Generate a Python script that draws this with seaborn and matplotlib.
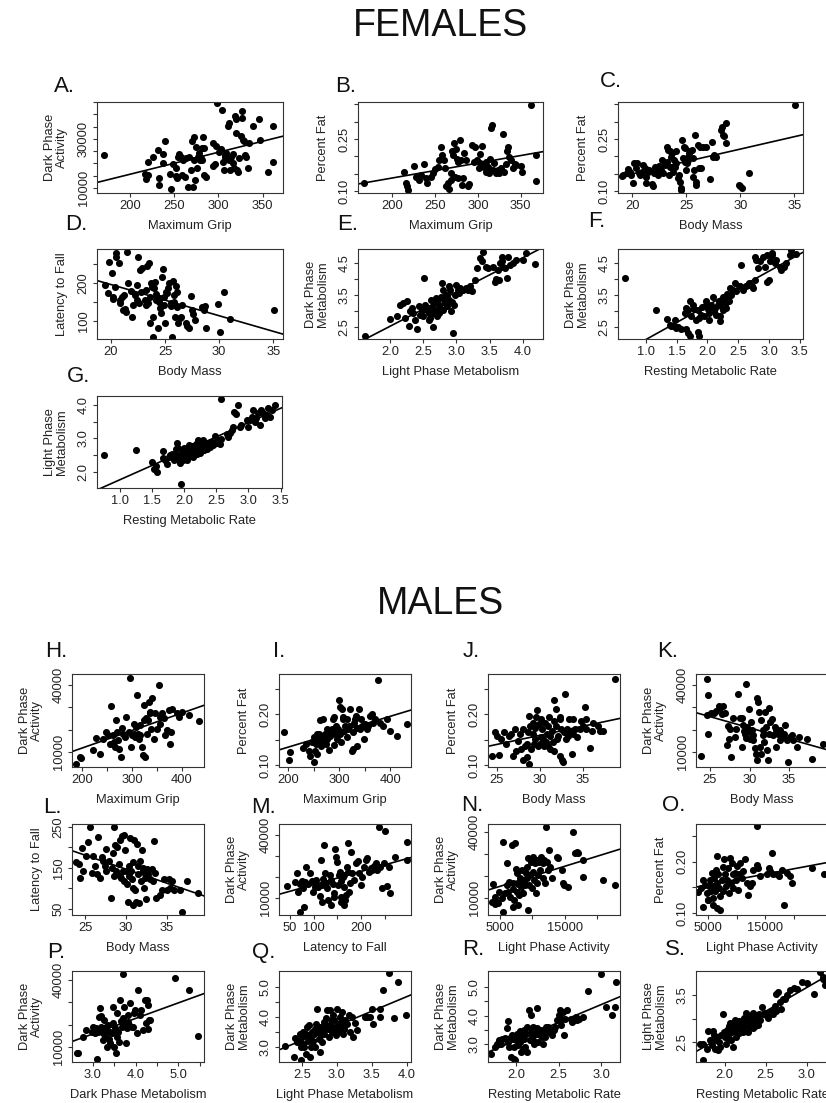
import matplotlib
matplotlib.use("Agg")
import matplotlib.pyplot as plt
import seaborn as sns

# ---------------- DATA ----------------
# Females
fA = [(171,23500),(217,15900),(218,13600),(221,15500),(221,20800),(226,22800),(232,25600),(233,13900),(233,11100),(237,23900),(237,20100),(240,29300),(245,15900),(247,9700),(249,19800),(252,18000),(252,14800),(253,13900),(254,22800),(256,23900),(258,22800),(259,15200),(260,21500),(262,14600),(264,22100),(266,10400),(267,22800),(269,17300),(270,29000),(271,10400),(272,30800),(273,21500),(274,13200),(275,26700),(276,18000),(277,22800),(278,24200),(279,21500),(280,22400),(281,26300),(282,21500),(283,30800),(284,26300),(284,15200),(286,14600),(294,19000),(294,28400),(296,19800),(297,27200),(299,44600),(301,24500),(303,25900),(304,41900),(305,20800),(306,17300),(307,22800),(308,23500),(309,24200),(311,35300),(312,36600),(312,21500),(313,17300),(314,22800),(316,23800),(317,20100),(318,18000),(319,39400),(320,38000),(320,32500),(321,17300),(322,16600),(323,22100),(326,31400),(327,41500),(327,38700),(328,29700),(329,29000),(330,23500),(331,22800),(333,18000),(335,28400),(339,35300),(346,38300),(347,29700),(356,16600),(362,20500),(362,35300)]
fB = [(167,0.124),(214,0.156),(216,0.124),(217,0.113),(218,0.103),(225,0.172),(228,0.139),(231,0.132),(233,0.146),(237,0.178),(239,0.137),(241,0.124),(245,0.141),(248,0.151),(250,0.163),(253,0.168),(255,0.189),(257,0.226),(258,0.204),(260,0.189),(261,0.165),(263,0.114),(265,0.124),(266,0.105),(268,0.132),(269,0.151),(270,0.216),(271,0.204),(272,0.238),(273,0.139),(274,0.220),(276,0.191),(277,0.185),(277,0.137),(279,0.247),(280,0.189),(282,0.117),(283,0.137),(284,0.209),(286,0.189),(288,0.114),(290,0.120),(293,0.233),(295,0.185),(297,0.226),(299,0.189),(301,0.165),(303,0.180),(303,0.207),(305,0.230),(307,0.170),(308,0.178),(309,0.185),(310,0.156),(312,0.170),(313,0.153),(314,0.191),(315,0.281),(317,0.290),(318,0.161),(319,0.180),(321,0.151),(323,0.161),(325,0.151),(327,0.165),(329,0.265),(331,0.156),(333,0.178),(334,0.214),(335,0.228),(336,0.199),(339,0.189),(341,0.165),(343,0.178),(345,0.175),(350,0.172),(352,0.156),(362,0.348),(368,0.204),(368,0.130)]
fC = [(19.1,0.143),(19.2,0.146),(19.5,0.151),(19.6,0.163),(19.8,0.156),(19.9,0.146),(20.1,0.124),(20.2,0.180),(20.4,0.165),(20.5,0.182),(20.6,0.151),(20.7,0.146),(20.9,0.156),(21.0,0.175),(21.2,0.165),(21.3,0.122),(21.3,0.141),(21.5,0.156),(21.6,0.161),(21.8,0.120),(21.9,0.114),(22.0,0.151),(22.1,0.170),(22.2,0.163),(22.4,0.146),(22.5,0.172),(22.7,0.161),(22.8,0.189),(22.9,0.151),(23.0,0.175),(23.2,0.185),(23.2,0.226),(23.3,0.218),(23.4,0.146),(23.5,0.214),(23.5,0.170),(23.6,0.199),(23.7,0.209),(23.8,0.156),(23.9,0.189),(24.0,0.170),(24.1,0.214),(24.1,0.180),(24.2,0.137),(24.3,0.146),(24.4,0.127),(24.5,0.108),(24.5,0.103),(24.6,0.247),(24.7,0.194),(24.8,0.228),(24.9,0.223),(24.9,0.185),(25.0,0.161),(25.1,0.180),(25.2,0.189),(25.2,0.197),(25.3,0.209),(25.4,0.214),(25.5,0.218),(25.6,0.194),(25.6,0.141),(25.7,0.161),(25.8,0.262),(25.9,0.127),(25.9,0.117),(26.1,0.233),(26.2,0.165),(26.3,0.228),(26.4,0.165),(26.6,0.228),(26.8,0.226),(27.2,0.134),(27.4,0.242),(27.5,0.199),(27.6,0.204),(27.8,0.199),(28.2,0.276),(28.3,0.286),(28.4,0.262),(28.5,0.259),(28.7,0.295),(28.7,0.239),(29.9,0.117),(30.0,0.113),(30.2,0.108),(30.8,0.153),(35.1,0.348)]
fD = [(19.4,195.6),(19.7,175.2),(19.8,257.5),(20.1,228.3),(20.2,162.8),(20.2,157.5),(20.4,191.2),(20.5,281.4),(20.5,270.8),(20.7,253.1),(20.8,148.7),(20.8,155.8),(21.0,164.6),(21.1,129.2),(21.2,169.0),(21.3,131.0),(21.4,124.8),(21.5,284.1),(21.6,201.8),(21.8,180.5),(21.9,111.5),(22.0,142.5),(22.2,169.0),(22.4,155.8),(22.4,195.6),(22.5,270.8),(22.6,146.9),(22.7,235.4),(22.8,177.9),(22.9,239.8),(23.1,155.8),(23.2,142.5),(23.2,182.3),(23.3,246.0),(23.4,146.9),(23.5,254.9),(23.6,164.6),(23.6,93.8),(23.7,200.0),(23.8,191.2),(23.9,109.7),(23.9,58.4),(24.0,186.7),(24.1,204.4),(24.2,155.8),(24.2,171.7),(24.3,80.5),(24.4,151.3),(24.5,160.2),(24.5,133.6),(24.6,120.4),(24.7,217.7),(24.8,237.2),(24.9,142.5),(24.9,164.6),(25.0,93.8),(25.1,177.9),(25.2,173.5),(25.3,186.7),(25.4,200.0),(25.5,146.9),(25.5,139.8),(25.6,58.4),(25.7,207.1),(25.8,169.0),(25.8,151.3),(25.9,111.5),(26.0,192.9),(26.1,138.1),(26.1,177.9),(26.2,93.8),(26.4,107.1),(26.5,111.5),(26.6,142.5),(26.9,93.8),(27.0,86.7),(27.2,80.5),(27.4,166.4),(27.5,129.2),(27.6,118.6),(27.8,102.7),(28.4,136.3),(28.6,129.2),(28.7,139.8),(28.8,80.5),(29.9,144.3),(30.1,71.7),(30.4,177.9),(31.0,104.4),(35.1,129.2)]
fE = [(1.62,2.21),(2.00,2.75),(2.10,2.83),(2.15,3.20),(2.20,3.25),(2.25,3.30),(2.23,2.78),(2.28,2.52),(2.30,2.99),(2.33,3.09),(2.35,2.94),(2.38,2.73),(2.40,2.42),(2.43,3.14),(2.45,2.88),(2.48,3.04),(2.50,2.83),(2.51,4.03),(2.53,3.20),(2.55,3.04),(2.58,2.73),(2.59,2.94),(2.60,2.78),(2.61,3.35),(2.63,3.12),(2.64,2.92),(2.65,2.50),(2.66,3.25),(2.68,3.04),(2.69,3.40),(2.70,2.83),(2.71,3.30),(2.73,2.94),(2.74,3.20),(2.75,3.09),(2.76,3.44),(2.78,3.87),(2.79,3.04),(2.80,3.66),(2.81,3.35),(2.83,3.25),(2.84,3.51),(2.85,3.46),(2.86,3.14),(2.88,3.35),(2.89,3.77),(2.90,3.66),(2.91,2.99),(2.93,3.27),(2.95,2.31),(2.96,3.20),(2.98,3.51),(3.00,3.82),(3.03,3.66),(3.04,3.56),(3.06,3.72),(3.10,3.66),(3.15,3.72),(3.18,3.66),(3.20,3.77),(3.23,3.63),(3.28,3.98),(3.31,4.34),(3.35,4.65),(3.38,4.55),(3.40,4.86),(3.44,4.39),(3.48,4.34),(3.55,4.39),(3.58,3.92),(3.60,4.00),(3.63,4.29),(3.64,3.98),(3.65,4.50),(3.68,4.70),(3.69,4.55),(3.70,4.39),(3.73,4.34),(3.76,4.03),(3.78,4.70),(3.80,4.44),(3.85,4.50),(3.90,4.60),(4.00,4.60),(4.04,4.81),(4.18,4.48)]
fF = [(0.66,4.03),(1.16,3.02),(1.35,2.75),(1.39,2.57),(1.41,2.54),(1.45,2.52),(1.49,2.47),(1.52,2.50),(1.57,2.42),(1.65,2.42),(1.68,2.31),(1.71,2.21),(1.48,2.71),(1.63,2.94),(1.65,3.09),(1.68,3.04),(1.71,3.30),(1.73,2.83),(1.76,3.20),(1.79,3.06),(1.82,2.73),(1.84,3.02),(1.85,2.33),(1.87,2.21),(1.87,2.78),(1.90,2.88),(1.92,3.12),(1.95,2.83),(1.97,3.20),(1.98,3.30),(2.01,3.06),(2.02,2.92),(2.03,2.73),(2.06,3.20),(2.09,3.44),(2.11,2.99),(2.13,3.09),(2.14,2.88),(2.17,3.17),(2.18,3.30),(2.20,2.83),(2.21,2.68),(2.22,3.27),(2.24,3.12),(2.25,3.44),(2.26,3.02),(2.28,3.17),(2.29,3.35),(2.30,3.09),(2.32,3.54),(2.33,3.44),(2.35,3.30),(2.36,3.72),(2.39,3.51),(2.41,3.66),(2.44,3.87),(2.47,3.61),(2.51,3.77),(2.53,3.79),(2.55,4.44),(2.58,3.66),(2.63,3.77),(2.66,3.82),(2.68,3.87),(2.73,3.77),(2.74,3.72),(2.77,3.98),(2.77,4.68),(2.79,4.60),(2.82,4.34),(2.85,4.55),(2.90,4.70),(2.93,4.39),(2.96,3.92),(2.97,4.76),(3.00,3.98),(3.01,4.55),(3.04,4.83),(3.05,4.76),(3.09,4.50),(3.12,4.60),(3.17,4.39),(3.20,4.29),(3.24,4.39),(3.28,4.50),(3.34,4.76),(3.36,4.91),(3.43,4.79)]
fG = [(0.76,2.52),(1.26,2.67),(1.50,2.30),(1.53,2.10),(1.58,2.00),(1.57,2.17),(1.67,2.63),(1.68,2.43),(1.71,2.35),(1.73,2.25),(1.76,2.45),(1.78,2.50),(1.81,2.53),(1.84,2.35),(1.86,2.55),(1.88,2.70),(1.89,2.87),(1.90,2.45),(1.91,2.73),(1.93,2.32),(1.94,2.27),(1.95,1.63),(1.96,2.55),(1.98,2.65),(1.99,2.35),(2.00,2.73),(2.02,2.43),(2.03,2.57),(2.04,2.35),(2.05,2.60),(2.07,2.70),(2.08,2.80),(2.09,2.47),(2.10,2.67),(2.12,2.55),(2.13,2.77),(2.14,2.45),(2.15,2.63),(2.17,2.73),(2.19,2.85),(2.20,2.55),(2.21,2.95),(2.22,2.65),(2.24,2.67),(2.25,2.57),(2.27,2.80),(2.29,2.73),(2.30,2.95),(2.31,2.65),(2.32,2.85),(2.34,2.77),(2.35,2.70),(2.38,2.87),(2.40,2.75),(2.43,2.90),(2.45,2.80),(2.48,3.07),(2.51,2.87),(2.53,2.95),(2.56,2.85),(2.57,4.17),(2.58,2.97),(2.66,3.13),(2.69,3.05),(2.71,3.17),(2.74,3.25),(2.76,3.35),(2.77,3.80),(2.81,3.73),(2.84,4.00),(2.87,3.35),(2.89,3.40),(2.97,3.55),(3.00,3.35),(3.02,3.55),(3.05,3.65),(3.07,3.85),(3.10,3.50),(3.12,3.60),(3.15,3.75),(3.18,3.40),(3.20,3.85),(3.23,3.75),(3.25,3.60),(3.28,3.70),(3.30,3.90),(3.33,3.65),(3.36,3.85),(3.41,4.00)]
# Males
mH = [(188,4450),(196,7750),(199,7450),(223,11050),(229,16450),(236,9250),(243,16000),(249,19000),(253,17500),(256,13750),(259,30550),(263,17500),(264,14500),(266,12250),(269,24250),(271,19000),(273,15250),(275,11500),(279,7750),(281,20950),(283,18250),(286,16750),(288,25750),(293,19000),(296,43000),(297,12250),(299,17500),(303,22750),(304,18250),(306,16750),(308,21250),(309,35500),(311,18250),(313,16000),(315,17500),(316,22000),(319,12250),(321,8500),(323,24250),(324,31000),(326,7750),(328,25000),(329,18250),(331,24250),(333,32500),(335,28000),(336,27250),(337,20500),(339,34000),(343,16000),(346,27250),(349,20500),(353,40000),(355,22750),(356,25750),(359,27250),(363,25000),(366,17500),(369,19750),(373,28750),(376,13450),(377,19000),(379,29050),(389,27250),(393,25750),(399,28000),(413,26500),(433,23950)]
mI = [(192,0.166),(201,0.110),(203,0.127),(230,0.135),(235,0.142),(240,0.129),(243,0.119),(246,0.145),(250,0.155),(251,0.106),(253,0.129),(255,0.142),(256,0.161),(257,0.123),(259,0.148),(261,0.161),(263,0.189),(264,0.139),(266,0.155),(268,0.146),(269,0.190),(271,0.158),(272,0.161),(274,0.142),(276,0.171),(277,0.152),(279,0.165),(281,0.131),(282,0.158),(286,0.171),(288,0.190),(289,0.194),(290,0.140),(292,0.161),(294,0.177),(295,0.152),(297,0.171),(299,0.229),(301,0.215),(302,0.161),(303,0.145),(305,0.210),(307,0.190),(308,0.194),(310,0.168),(312,0.177),(315,0.190),(316,0.155),(318,0.171),(320,0.177),(322,0.210),(325,0.129),(327,0.132),(328,0.165),(329,0.184),(331,0.190),(333,0.197),(335,0.174),(336,0.139),(338,0.211),(341,0.171),(342,0.190),(344,0.177),(348,0.152),(351,0.181),(354,0.171),(357,0.177),(361,0.197),(364,0.200),(367,0.184),(370,0.190),(377,0.268),(380,0.184),(387,0.177),(393,0.190),(400,0.168),(413,0.158),(433,0.181)]
mJ = [(24.5,0.119),(24.8,0.165),(25.0,0.158),(25.3,0.121),(25.5,0.152),(25.9,0.165),(26.1,0.142),(26.4,0.158),(26.7,0.161),(26.9,0.119),(27.1,0.171),(27.3,0.129),(27.5,0.148),(27.7,0.161),(27.8,0.132),(28.1,0.171),(28.1,0.110),(28.3,0.139),(28.5,0.116),(28.5,0.142),(28.6,0.165),(28.8,0.103),(28.8,0.197),(28.9,0.177),(29.0,0.132),(29.2,0.184),(29.2,0.161),(29.3,0.142),(29.4,0.174),(29.5,0.152),(29.6,0.194),(29.7,0.208),(29.8,0.139),(29.9,0.181),(30.0,0.142),(30.1,0.155),(30.2,0.190),(30.3,0.171),(30.4,0.152),(30.5,0.139),(30.6,0.184),(30.7,0.145),(30.8,0.161),(30.9,0.177),(31.0,0.139),(31.1,0.194),(31.2,0.132),(31.2,0.158),(31.4,0.168),(31.5,0.145),(31.6,0.129),(31.6,0.187),(31.7,0.229),(31.9,0.210),(31.9,0.177),(32.0,0.152),(32.1,0.158),(32.3,0.194),(32.3,0.190),(32.4,0.119),(32.5,0.171),(32.6,0.110),(32.7,0.106),(32.8,0.165),(32.9,0.239),(33.0,0.152),(33.1,0.171),(33.3,0.158),(33.4,0.190),(33.5,0.165),(33.7,0.123),(33.8,0.161),(33.9,0.190),(34.1,0.171),(34.3,0.155),(34.7,0.171),(34.8,0.187),(35.0,0.177),(35.2,0.215),(35.4,0.171),(35.4,0.190),(35.8,0.135),(36.0,0.168),(36.2,0.184),(36.8,0.177),(37.0,0.168),(37.3,0.168),(38.7,0.269)]
mK = [(23.9,8050),(24.6,42550),(24.8,35500),(24.8,17950),(24.6,26500),(25.2,27250),(25.5,27550),(25.8,28450),(26.1,30550),(26.3,29500),(26.5,26950),(26.7,30550),(26.9,27550),(27.1,13000),(27.3,21550),(27.4,16000),(27.6,20500),(27.7,7750),(27.9,25000),(28.2,16750),(28.3,20500),(28.6,35950),(28.8,25000),(29.0,25000),(29.1,12250),(29.2,22000),(29.3,19450),(29.4,18250),(29.6,16450),(29.6,40450),(29.7,21250),(29.9,29050),(30.0,19000),(30.1,16000),(30.2,23500),(30.3,19750),(30.4,17500),(30.5,15250),(30.7,11950),(30.8,9250),(30.9,6250),(31.0,34000),(31.1,32500),(31.2,28000),(31.3,12250),(31.4,9250),(31.5,24250),(31.7,19750),(31.7,17500),(31.8,14500),(31.9,28000),(32.1,21250),(32.2,10750),(32.3,6250),(32.4,29500),(32.5,18250),(32.6,23500),(32.8,24550),(33.0,17500),(33.2,21250),(33.4,12250),(33.4,19750),(33.6,18250),(33.8,15250),(33.9,19750),(34.1,16750),(34.3,18250),(34.5,22000),(34.7,15250),(34.9,5500),(35.1,16750),(35.3,17500),(35.5,15250),(36.0,12250),(36.2,16750),(37.2,16000),(37.9,7000),(39.3,13750)]
mL = [(23.9,163.3),(24.2,159.2),(24.4,125.8),(24.6,199.2),(24.8,142.5),(25.1,180.0),(25.4,213.3),(25.6,250.8),(25.8,138.3),(26.0,180.0),(26.2,155.0),(26.4,134.2),(26.6,224.2),(26.8,125.8),(27.0,175.8),(27.2,167.5),(27.4,155.0),(27.6,196.7),(27.6,142.5),(27.9,167.5),(28.1,75.8),(28.3,150.8),(28.4,185.8),(28.5,250.8),(28.5,130.0),(28.7,205.0),(28.8,142.5),(28.9,134.2),(28.9,200.8),(29.1,159.2),(29.2,130.0),(29.3,217.5),(29.4,125.8),(29.5,227.5),(29.6,142.5),(29.7,230.0),(29.8,117.5),(29.9,192.5),(30.0,142.5),(30.1,110.8),(30.3,130.0),(30.4,155.0),(30.5,221.7),(30.6,142.5),(30.7,121.7),(30.8,100.8),(30.9,163.3),(31.0,217.5),(31.1,96.7),(31.2,67.5),(31.3,209.2),(31.4,155.0),(31.5,134.2),(31.6,63.3),(31.7,167.5),(31.8,117.5),(31.9,192.5),(32.0,142.5),(32.1,150.8),(32.2,100.8),(32.3,125.8),(32.4,74.2),(32.5,146.7),(32.6,130.0),(32.7,134.2),(32.9,121.7),(33.1,146.7),(33.3,117.5),(33.4,215.8),(33.5,138.3),(33.7,75.8),(34.1,84.2),(34.4,96.7),(34.6,121.7),(35.0,96.7),(35.2,121.7),(35.4,100.8),(35.6,117.5),(35.8,96.7),(36.6,96.7),(37.4,117.5),(38.8,88.3),(30.2,67.5),(30.9,60.0),(36.8,42.0)]
mM = [(44,15700),(61,17760),(65,21730),(68,13000),(72,16650),(75,18240),(78,14590),(82,17760),(85,24900),(89,16650),(92,21730),(96,18240),(99,13000),(103,15380),(106,18560),(110,15070),(113,10940),(115,28080),(117,16180),(120,18880),(122,35220),(124,21730),(127,17290),(129,14590),(130,9040),(134,20940),(137,18560),(141,16650),(143,10620),(144,12210),(146,33160),(148,29670),(150,27290),(151,16180),(153,20940),(155,22530),(157,18240),(158,10310),(162,20150),(164,15380),(165,20940),(167,9040),(169,11420),(171,24900),(172,22530),(173,36330),(176,13000),(178,16970),(179,32050),(182,21730),(186,18560),(189,26810),(193,27760),(196,21730),(200,16180),(203,20150),(207,24900),(210,28080),(214,28870),(217,22530),(221,24110),(224,23320),(228,25220),(231,26490),(234,23320),(238,43950),(241,24900),(245,14590),(248,26490),(252,42050),(255,15700),(259,24900),(262,12210),(273,29670),(297,28080),(297,36810),(71,3340),(79,5700),(117,8100),(137,6700),(158,8100),(165,6700)]
mN = [(3870,16360),(4230,10600),(4490,8330),(4900,12880),(5260,9850),(5510,35600),(5770,12120),(6030,26060),(6130,15910),(6280,12880),(6440,17420),(6540,10600),(6800,34090),(6950,13940),(7050,16670),(7150,9090),(7310,34850),(7460,23030),(7560,12880),(7670,21210),(7820,16360),(7980,11360),(8080,18940),(8180,15150),(8330,22730),(8490,18180),(8590,12420),(8690,17420),(8850,15910),(9000,21210),(9100,24240),(9210,18940),(9360,28030),(9510,15910),(9620,20450),(9720,26510),(9870,14390),(10030,21970),(10130,28790),(10230,18180),(10380,25760),(10540,12120),(10640,27270),(10740,16670),(10900,20450),(11050,26510),(11150,22730),(11260,28790),(11410,27270),(11560,18940),(11670,25760),(11770,27270),(11920,16670),(12080,42420),(12180,26510),(12430,22730),(12590,31820),(12690,24240),(12950,18940),(13720,28790),(13970,28030),(14490,22730),(14740,16670),(14850,15910),(15510,15150),(16280,40150),(16540,30300),(16790,31060),(17050,30600),(17820,27270),(17820,19700),(20790,18180),(22690,15910),(3770,8180),(4230,7270),(4690,7730),(5460,3640),(7000,5910),(7770,6820),(9310,4550)]
mO = [(3310,0.140),(3720,0.149),(4180,0.165),(4480,0.155),(4770,0.139),(5060,0.126),(5240,0.152),(5350,0.165),(5470,0.142),(5640,0.178),(5820,0.129),(5940,0.153),(6060,0.168),(6230,0.142),(6410,0.184),(6520,0.211),(6640,0.158),(6810,0.175),(6990,0.149),(7110,0.132),(7400,0.165),(7570,0.190),(7690,0.142),(7810,0.205),(7980,0.175),(8160,0.152),(8280,0.165),(8570,0.188),(8740,0.139),(8860,0.207),(8980,0.158),(9150,0.198),(9330,0.175),(9450,0.149),(9740,0.178),(9910,0.165),(10030,0.191),(10320,0.145),(10500,0.175),(10610,0.198),(10910,0.168),(11200,0.181),(11490,0.204),(11790,0.158),(12080,0.135),(12370,0.152),(12660,0.158),(12950,0.184),(13540,0.194),(13660,0.269),(13830,0.188),(14120,0.171),(15290,0.175),(15760,0.188),(15880,0.181),(16170,0.217),(16460,0.175),(17050,0.175),(17340,0.171),(17920,0.184),(18220,0.116),(18800,0.178),(19390,0.171),(19680,0.158),(23190,0.188),(25230,0.175),(4120,0.112),(5000,0.125),(5880,0.116),(6580,0.110),(7100,0.106)]
mP = [(2.62,7480),(2.65,7180),(2.77,14650),(2.83,17630),(2.97,16890),(3.01,19130),(3.05,16140),(3.07,18380),(3.09,4490),(3.12,16890),(3.15,23600),(3.16,27340),(3.18,23900),(3.20,19130),(3.23,16140),(3.24,13150),(3.26,22110),(3.28,14650),(3.30,19130),(3.32,16890),(3.34,10170),(3.36,19870),(3.38,13450),(3.40,11660),(3.41,16890),(3.44,16140),(3.46,28080),(3.48,20920),(3.49,10170),(3.52,18380),(3.54,7480),(3.56,25100),(3.57,14650),(3.59,16890),(3.62,12410),(3.63,31070),(3.65,21810),(3.67,19130),(3.70,42720),(3.71,22860),(3.73,28080),(3.75,19870),(3.77,11660),(3.79,18380),(3.81,21370),(3.83,24350),(3.85,19870),(3.87,29580),(3.91,19130),(3.93,19130),(3.95,25100),(3.99,26590),(4.02,16140),(4.06,35550),(4.10,24350),(4.12,26590),(4.18,17630),(4.22,31070),(4.24,20620),(4.26,31070),(4.28,17930),(4.30,28830),(4.32,22110),(4.34,22110),(4.93,40780),(5.24,35550),(5.47,14950)]
mQ = [(2.26,3.02),(2.38,2.66),(2.40,3.31),(2.43,3.17),(2.45,3.22),(2.47,3.43),(2.48,2.57),(2.49,3.00),(2.50,3.34),(2.51,3.51),(2.52,3.11),(2.53,3.00),(2.55,2.78),(2.56,3.45),(2.57,3.67),(2.58,3.22),(2.60,3.73),(2.61,3.34),(2.62,2.66),(2.63,3.00),(2.64,3.51),(2.66,3.22),(2.67,3.45),(2.68,3.62),(2.69,3.00),(2.70,3.79),(2.71,4.29),(2.72,3.51),(2.74,3.28),(2.75,2.83),(2.76,3.67),(2.77,3.39),(2.79,3.17),(2.80,3.56),(2.81,3.84),(2.82,3.45),(2.83,3.73),(2.85,3.96),(2.86,4.24),(2.87,3.62),(2.88,3.34),(2.90,3.73),(2.90,4.24),(2.91,3.90),(2.93,3.51),(2.94,4.07),(2.95,3.67),(2.96,3.90),(2.98,3.39),(2.99,3.62),(3.00,4.29),(3.01,3.79),(3.02,3.51),(3.04,4.01),(3.05,3.62),(3.06,3.84),(3.07,4.18),(3.09,3.45),(3.10,3.73),(3.10,3.62),(3.12,3.90),(3.14,3.79),(3.17,4.07),(3.19,3.51),(3.21,4.01),(3.23,3.34),(3.26,3.81),(3.29,3.56),(3.40,4.01),(3.43,4.01),(3.48,4.01),(3.50,4.29),(3.51,3.79),(3.62,4.01),(3.62,4.29),(3.66,4.91),(3.74,5.47),(3.81,3.96),(3.87,5.19),(3.99,4.07)]
mR = [(1.71,2.62),(1.75,2.88),(1.78,3.00),(1.80,3.12),(1.82,2.98),(1.84,3.18),(1.87,3.21),(1.89,3.57),(1.90,3.06),(1.91,3.81),(1.92,2.88),(1.93,3.21),(1.94,2.52),(1.95,3.30),(1.96,3.18),(1.97,2.46),(1.98,2.88),(1.99,2.43),(2.00,3.12),(2.01,3.36),(2.02,2.94),(2.03,3.18),(2.04,3.45),(2.05,3.06),(2.06,2.70),(2.07,3.30),(2.08,2.82),(2.09,3.48),(2.09,3.18),(2.11,2.88),(2.12,3.36),(2.13,3.60),(2.13,2.70),(2.15,4.19),(2.16,3.12),(2.17,4.01),(2.17,3.42),(2.19,3.24),(2.20,3.60),(2.20,3.12),(2.21,3.00),(2.22,3.36),(2.24,3.54),(2.24,4.25),(2.25,3.36),(2.26,3.06),(2.28,3.48),(2.28,3.30),(2.30,3.24),(2.31,3.50),(2.32,3.00),(2.33,3.42),(2.34,3.24),(2.35,3.60),(2.36,3.42),(2.38,3.60),(2.40,3.42),(2.42,3.30),(2.44,3.48),(2.46,3.60),(2.48,3.83),(2.50,4.01),(2.51,4.19),(2.53,3.65),(2.54,3.89),(2.55,4.13),(2.56,3.30),(2.58,3.89),(2.60,4.19),(2.64,3.89),(2.66,3.77),(2.68,3.83),(2.70,3.95),(2.72,3.83),(2.74,3.89),(2.78,3.95),(2.85,4.88),(3.00,5.48),(3.05,4.31),(3.13,4.01),(3.16,4.29),(3.17,5.20)]
mS = [(1.73,2.11),(1.70,2.46),(1.73,2.45),(1.78,2.35),(1.80,2.74),(1.82,2.54),(1.84,2.43),(1.86,2.74),(1.87,2.65),(1.88,2.35),(1.89,2.54),(1.91,2.61),(1.92,2.32),(1.93,2.50),(1.94,2.39),(1.96,2.65),(1.98,3.09),(1.99,2.72),(2.00,2.61),(2.01,2.69),(2.02,2.46),(2.03,2.76),(2.04,2.57),(2.05,2.83),(2.06,2.69),(2.07,2.91),(2.08,2.54),(2.09,2.76),(2.10,2.39),(2.11,2.87),(2.12,2.72),(2.13,2.98),(2.14,2.61),(2.15,2.83),(2.16,2.76),(2.18,2.94),(2.18,2.69),(2.19,2.91),(2.20,2.80),(2.22,2.98),(2.22,2.72),(2.23,3.02),(2.24,2.87),(2.26,3.13),(2.27,2.80),(2.27,3.06),(2.29,2.72),(2.30,2.98),(2.31,2.91),(2.31,3.06),(2.33,2.94),(2.34,3.09),(2.35,2.80),(2.35,3.13),(2.37,2.83),(2.38,3.02),(2.39,2.91),(2.41,2.87),(2.42,3.09),(2.43,2.98),(2.45,3.24),(2.47,3.09),(2.49,3.13),(2.51,3.06),(2.53,3.02),(2.55,3.09),(2.57,3.17),(2.59,3.09),(2.61,3.28),(2.62,3.17),(2.63,3.54),(2.65,3.57),(2.67,3.35),(2.69,3.20),(2.71,3.43),(2.73,3.43),(2.76,3.50),(2.80,3.61),(2.84,3.66),(2.88,3.65),(2.94,3.80),(3.00,3.76),(3.09,3.54),(3.16,4.00),(3.20,3.85),(3.22,3.72),(3.20,3.90)]

# axis labels
LBL_GRIP = "Maximum Grip"; LBL_MASS = "Body Mass"; LBL_LAT = "Latency to Fall"
LBL_DPA = "Dark Phase\nActivity"; LBL_FAT = "Percent Fat"
LBL_DPM = "Dark Phase\nMetabolism"; LBL_LPM = "Light Phase\nMetabolism"
LBL_LPMx = "Light Phase Metabolism"; LBL_DPMx = "Dark Phase Metabolism"
LBL_RMR = "Resting Metabolic Rate"; LBL_LPA = "Light Phase Activity"

# tick values and labels
t_act_f = [10000,15000,20000,25000,30000,35000,40000,45000]
l_act_f = ["10000","","","","30000","","",""]
t_fat_f = [0.10,0.15,0.20,0.25,0.30,0.35]
l_fat_f = ["0.10","","","0.25","",""]
t_grip_f = [200,250,300,350]; l_grip_f = ["200","250","300","350"]
t_mass_f = [20,25,30,35]; l_mass_f = ["20","25","30","35"]
t_lat_f = [100,150,200,250]; l_lat_f = ["100","","200",""]
t_met_f = [2.5,3.0,3.5,4.0,4.5]; l_met_f = ["2.5","","3.5","","4.5"]
t_lpm_f = [2.0,2.5,3.0,3.5,4.0]; l_lpm_f = ["2.0","2.5","3.0","3.5","4.0"]
t_rmr_f = [1.0,1.5,2.0,2.5,3.0,3.5]; l_rmr_f = ["1.0","1.5","2.0","2.5","3.0","3.5"]
t_lpmy_f = [2.0,2.5,3.0,3.5,4.0]; l_lpmy_f = ["2.0","","3.0","","4.0"]

t_act_m = [10000,20000,30000,40000]; l_act_m = ["10000","","","40000"]
t_fat_m = [0.10,0.15,0.20,0.25]; l_fat_m = ["0.10","","0.20",""]
t_grip_m = [200,250,300,350,400]; l_grip_m = ["200","","300","","400"]
t_mass_m = [25,30,35]; l_mass_m = ["25","30","35"]
t_lat_m = [50,100,150,200,250]; l_lat_m = ["50","","150","","250"]
t_latx_m = [50,100,150,200,250]; l_latx_m = ["50","100","","200",""]
t_lpa_m = [5000,10000,15000,20000]; l_lpa_m = ["5000","","15000",""]
t_dpmx_m = [3.0,3.5,4.0,4.5,5.0,5.5]; l_dpmx_m = ["3.0","","4.0","","5.0",""]
t_lpmx_m = [2.5,3.0,3.5,4.0]; l_lpmx_m = ["2.5","3.0","3.5","4.0"]
t_dpm_m = [3.0,3.5,4.0,4.5,5.0]; l_dpm_m = ["3.0","","4.0","","5.0"]
t_rmr_m = [2.0,2.5,3.0]; l_rmr_m = ["2.0","2.5","3.0"]
t_lpm_m = [2.5,3.0,3.5]; l_lpm_m = ["2.5","","3.5"]

# ---------------- LAYOUT ----------------
W, H = 826, 1103
sns.set_theme(style="ticks")
plt.rcParams['font.family'] = ['Liberation Sans', 'DejaVu Sans']
fig = plt.figure(figsize=(W / 100, H / 100), dpi=100)

# name: data, rect(l,t,r,b px), xlim, ylim, xt, xl, yt, yl, xlabel, ylabel, letter(x, baseline)
panels = [
    ("A", fA, (97,102,283,193), (163,373), (7960,45100), t_grip_f, l_grip_f, t_act_f, l_act_f, LBL_GRIP, LBL_DPA, (54,92)),
    ("B", fB, (358,102,543,193), (160,376), (0.094,0.357), t_grip_f, l_grip_f, t_fat_f, l_fat_f, LBL_GRIP, LBL_FAT, (335,92)),
    ("C", fC, (618,102,803,193), (18.7,35.8), (0.094,0.357), t_mass_f, l_mass_f, t_fat_f, l_fat_f, LBL_MASS, LBL_FAT, (600,87)),
    ("D", fD, (97,249,283,339), (18.7,35.9), (52,291), t_mass_f, l_mass_f, t_lat_f, l_lat_f, LBL_MASS, LBL_LAT, (65,230)),
    ("E", fE, (358,249,543,339), (1.52,4.30), (2.12,4.94), t_lpm_f, l_lpm_f, t_met_f, l_met_f, LBL_LPMx, LBL_DPM, (337,230)),
    ("F", fF, (618,249,803,339), (0.55,3.55), (2.12,4.94), t_rmr_f, l_rmr_f, t_met_f, l_met_f, LBL_RMR, LBL_DPM, (588,227)),
    ("G", fG, (97,396,282,488), (0.65,3.52), (1.52,4.27), t_rmr_f, l_rmr_f, t_lpmy_f, l_lpmy_f, LBL_RMR, LBL_LPM, (67,382)),
    ("H", mH, (72,674,204,767), (180,444), (3300,44900), t_grip_m, l_grip_m, t_act_m, l_act_m, LBL_GRIP, LBL_DPA, (45,657)),
    ("I", mI, (279,674,411,767), (182,441), (0.097,0.279), t_grip_m, l_grip_m, t_fat_m, l_fat_m, LBL_GRIP, LBL_FAT, (273,657)),
    ("J", mJ, (488,674,620,767), (24.0,39.3), (0.097,0.279), t_mass_m, l_mass_m, t_fat_m, l_fat_m, LBL_MASS, LBL_FAT, (463,657)),
    ("K", mK, (696,674,828,767), (23.25,39.9), (3300,44900), t_mass_m, l_mass_m, t_act_m, l_act_m, LBL_MASS, LBL_DPA, (657,657)),
    ("L", mL, (72,824,204,915), (23.4,39.5), (35,257), t_mass_m, l_mass_m, t_lat_m, l_lat_m, LBL_MASS, LBL_LAT, (43,813)),
    ("M", mM, (279,824,411,915), (27,306), (1900,45200), t_latx_m, l_latx_m, t_act_m, l_act_m, LBL_LAT, LBL_DPA, (251,813)),
    ("N", mN, (488,824,620,915), (3150,23470), (2270,43600), t_lpa_m, l_lpa_m, t_act_m, l_act_m, LBL_LPA, LBL_DPA, (461,811)),
    ("O", mO, (696,824,828,915), (2900,26000), (0.096,0.273), t_lpa_m, l_lpa_m, t_fat_m, l_fat_m, LBL_LPA, LBL_FAT, (662,811)),
    ("P", mP, (72,971,204,1062), (2.51,5.6), (3300,44000), t_dpmx_m, l_dpmx_m, t_act_m, l_act_m, LBL_DPMx, LBL_DPA, (47,958)),
    ("Q", mQ, (279,971,411,1062), (2.17,4.06), (2.5,5.55), t_lpmx_m, l_lpmx_m, t_dpm_m, l_dpm_m, LBL_LPMx, LBL_DPM, (252,958)),
    ("R", mR, (488,971,620,1062), (1.67,3.22), (2.35,5.58), t_rmr_m, l_rmr_m, t_dpm_m, l_dpm_m, LBL_RMR, LBL_DPM, (462,955)),
    ("S", mS, (696,971,828,1062), (1.65,3.26), (2.06,4.03), t_rmr_m, l_rmr_m, t_lpm_m, l_lpm_m, LBL_RMR, LBL_LPM, (665,955)),
]

TXT = "#222222"
for name, pts, (l, t, r, b), xlim, ylim, xt, xl, yt, yl, xlab, ylab, (lx, ly) in panels:
    ax = fig.add_axes([l / W, 1 - b / H, (r - l) / W, (b - t) / H])
    xs = [p[0] for p in pts]
    ys = [p[1] for p in pts]
    ax.set_xlim(*xlim)
    ax.set_ylim(*ylim)
    sns.regplot(x=xs, y=ys, ax=ax, ci=None, truncate=False,
                scatter_kws=dict(s=26, color="black", alpha=1, linewidths=0),
                line_kws=dict(color="black", lw=1.2))
    ax.set_xlim(*xlim)
    ax.set_ylim(*ylim)
    ax.set_xticks(xt)
    ax.set_xticklabels(xl)
    ax.set_yticks(yt)
    ax.set_yticklabels(yl, rotation=90, va="center")
    ax.tick_params(axis="both", direction="out", length=3.2, width=0.8,
                   color="#333333", labelsize=9.3, labelcolor=TXT, pad=2)
    for sp in ax.spines.values():
        sp.set_visible(True)
        sp.set_linewidth(0.8)
        sp.set_color("#333333")
    w = r - l
    h = b - t
    ax.set_xlabel(xlab, fontsize=9.3, color=TXT)
    ax.set_ylabel(ylab, fontsize=9.3, color=TXT, linespacing=1.0)
    ax.xaxis.set_label_coords(0.5, -27 / h)
    ax.yaxis.set_label_coords(-29 / w, 0.5)
    fig.text(lx / W, 1 - ly / H, name + ".", fontsize=16, color="#111111",
             ha="left", va="baseline")

fig.text(440 / W, 1 - 36 / H, "FEMALES", fontsize=27, ha="center", va="baseline", color="#111111")
fig.text(440 / W, 1 - 614 / H, "MALES", fontsize=27, ha="center", va="baseline", color="#111111")

fig.savefig("out.png", dpi=100, facecolor="white")
